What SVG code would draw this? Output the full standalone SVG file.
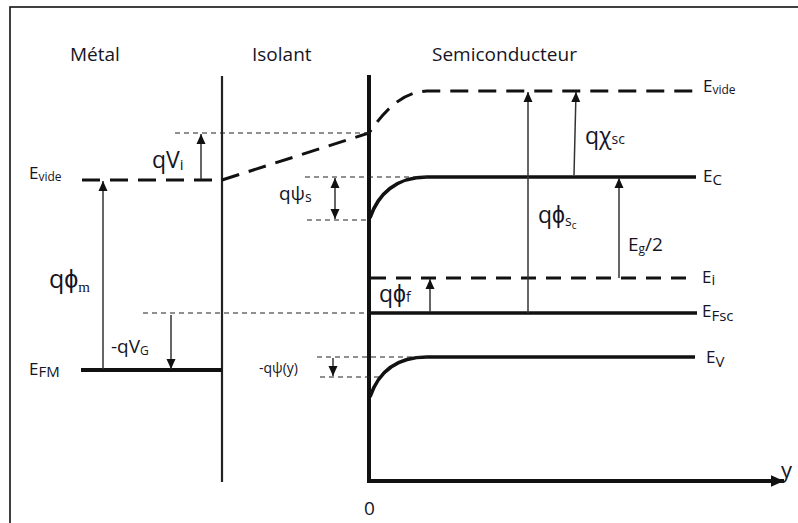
<svg xmlns="http://www.w3.org/2000/svg" width="798" height="523" viewBox="0 0 798 523">
<style>
text{font-family:"Open Sans","Liberation Sans",sans-serif;fill:#151525}
.frame{fill:none;stroke:#111;stroke-width:1.6}
.wall{stroke:#222;stroke-width:2.2;fill:none}
.wall2{stroke:#111;stroke-width:4;fill:none}
.lvl{stroke:#111;stroke-width:4;fill:none}
.vac{stroke:#111;stroke-width:3;fill:none;stroke-dasharray:18 10}
.ei{stroke:#111;stroke-width:3;fill:none;stroke-dasharray:15 10}
.thin{stroke:#222;stroke-width:1.2;fill:none;stroke-dasharray:5 4}
.arr{stroke:#333;stroke-width:1.5;fill:none}
.t{font-size:19px}
.big{font-size:23px}
.e{font-size:17px}
.sub{font-size:12px}
</style>
<defs>
<marker id="ah" viewBox="0 0 10 10" refX="10" refY="5" markerWidth="10" markerHeight="10" markerUnits="userSpaceOnUse" orient="auto-start-reverse">
<path d="M0,0.5 L10,5 L0,9.5 Z" fill="#111"/>
</marker>
<marker id="ahb" viewBox="0 0 10 10" refX="10" refY="5" markerWidth="13" markerHeight="13" markerUnits="userSpaceOnUse" orient="auto">
<path d="M0,0.5 L10,5 L0,9.5 Z" fill="#111"/>
</marker>
</defs>
<rect class="frame" x="10" y="7" width="800" height="530"/>

<g id="regions">
<text class="t" x="70" y="61">Métal</text>
<text class="t" x="252" y="61">Isolant</text>
<text class="t" x="432" y="61">Semiconducteur</text>
<line class="wall" x1="222" y1="76" x2="222" y2="482"/>
<path class="wall2" d="M369,75 V481 H775" />
<line x1="770" y1="481" x2="784" y2="481" stroke="#111" stroke-width="4" marker-end="url(#ahb)"/>
<text x="781" y="478" style="font-size:22px">y</text>
<text x="364" y="515" style="font-size:19px">0</text>
</g>

<g id="levels">
<line class="vac" x1="82" y1="180" x2="222" y2="180" stroke-dasharray="3 9 24 11 24 11 24 11 24 11 24 11"/>
<path class="vac" d="M222,180 L369,133 C385,110 402,92 427,91 L697,91"/>
<line class="lvl" x1="81" y1="370" x2="222" y2="370"/>
<path class="lvl" style="stroke-width:3.5" d="M370,218 C378,194 396,177 427,177 L696,177"/>
<path class="ei" d="M371,278 L693,278"/>
<line class="lvl" style="stroke-width:3.5" x1="370" y1="313" x2="697" y2="313"/>
<path class="lvl" style="stroke-width:3.5" d="M370,397 C378,373 396,357 427,357 L695,357"/>
</g>

<g id="guides">
<line class="thin" x1="175" y1="133" x2="369" y2="133"/>
<line class="thin" x1="305" y1="177" x2="427" y2="177"/>
<line class="thin" x1="307" y1="220" x2="370" y2="220"/>
<line class="thin" x1="143" y1="313" x2="369" y2="313"/>
<line class="thin" x1="317" y1="357" x2="427" y2="357"/>
<line class="thin" x1="320" y1="377" x2="382" y2="377"/>
</g>

<g id="connectors">
<line class="arr" x1="103" y1="369" x2="103" y2="181" marker-end="url(#ah)"/>
<line class="arr" x1="201" y1="179" x2="201" y2="134" marker-end="url(#ah)"/>
<line class="arr" x1="335" y1="178" x2="335" y2="219" marker-start="url(#ah)" marker-end="url(#ah)"/>
<line class="arr" x1="171" y1="315" x2="171" y2="369" marker-end="url(#ah)"/>
<line class="arr" x1="333" y1="358" x2="333" y2="376" marker-end="url(#ah)"/>
<line class="arr" x1="430" y1="312" x2="430" y2="279" marker-end="url(#ah)"/>
<line class="arr" x1="528" y1="313" x2="528" y2="92" marker-end="url(#ah)"/>
<line class="arr" x1="574" y1="175" x2="576" y2="92" marker-end="url(#ah)"/>
<line class="arr" x1="619" y1="278" x2="619" y2="178" marker-end="url(#ah)"/>
</g>

<g id="labels">
<text class="e" x="29" y="179">E<tspan class="sub" dy="2">vide</tspan></text>
<text class="e" x="29" y="375">E<tspan style="font-size:15px" dy="2">FM</tspan></text>
<text style="font-size:25px" x="49" y="288">qϕ<tspan style="font-family:'Liberation Serif',serif;font-size:15px" dy="4">m</tspan></text>
<text class="big" x="152" y="168">qV<tspan style="font-size:15px" dy="2">i</tspan></text>
<text class="t" x="279" y="200">qψ<tspan style="font-size:14px" dy="2">s</tspan></text>
<text style="font-size:19px" x="111" y="353">-qV<tspan style="font-size:12px" dy="2">G</tspan></text>
<text style="font-size:14px" x="259" y="373">-qψ(y)</text>
<text class="big" x="379" y="302">qϕ<tspan style="font-size:14px" dy="0">f</tspan></text>
<text class="big" x="538" y="223">qϕ<tspan style="font-size:14px" dy="3">s</tspan><tspan style="font-size:10px" dy="3">c</tspan></text>
<text class="big" x="585" y="144">qχ<tspan style="font-size:14px" dy="0">sc</tspan></text>
<text class="t" x="628" y="251">E<tspan style="font-size:12px" dy="2">g</tspan><tspan dy="-2">/2</tspan></text>
<text class="e" x="703" y="92">E<tspan class="sub" dy="2">vide</tspan></text>
<text class="e" x="703" y="182">E<tspan style="font-size:15px" dy="3">C</tspan></text>
<text class="e" x="702" y="283">E<tspan style="font-size:15px" dy="2">i</tspan></text>
<text class="e" x="702" y="317">E<tspan style="font-size:15px" dy="4">Fsc</tspan></text>
<text class="e" x="706" y="363">E<tspan style="font-size:15px" dy="4">V</tspan></text>
</g>
</svg>
